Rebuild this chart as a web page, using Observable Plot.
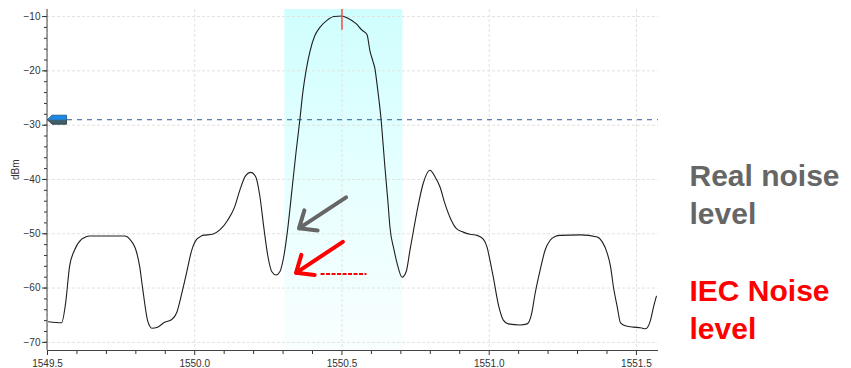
<!DOCTYPE html>
<html><head><meta charset="utf-8">
<script src="https://cdn.jsdelivr.net/npm/d3@7"></script>
<script src="https://cdn.jsdelivr.net/npm/@observablehq/plot@0.6"></script>
<style>body{margin:0;background:#fff} svg{display:block}</style>
</head><body><div id="chart"></div>
<script>
// Spectrum trace (wavelength in nm, power in dBm)
const wavelength = [1549.503,1549.548,1549.561,1549.575,1549.592,1549.616,1549.629,1549.643,1549.762,1549.772,1549.779,1549.803,1549.813,1549.823,1549.840,1549.847,1549.854,1549.874,1549.898,1549.922,1549.939,1549.956,1549.973,1549.990,1550.007,1550.017,1550.027,1550.061,1550.085,1550.112,1550.136,1550.153,1550.173,1550.190,1550.207,1550.221,1550.235,1550.248,1550.262,1550.276,1550.289,1550.303,1550.316,1550.330,1550.344,1550.357,1550.367,1550.378,1550.391,1550.408,1550.425,1550.449,1550.473,1550.500,1550.520,1550.548,1550.568,1550.585,1550.595,1550.605,1550.612,1550.619,1550.626,1550.633,1550.639,1550.646,1550.656,1550.663,1550.677,1550.687,1550.704,1550.718,1550.731,1550.741,1550.758,1550.776,1550.799,1550.816,1550.833,1550.850,1550.867,1550.888,1550.912,1550.935,1550.959,1550.980,1550.993,1551.003,1551.014,1551.031,1551.048,1551.065,1551.105,1551.129,1551.143,1551.156,1551.173,1551.190,1551.207,1551.224,1551.241,1551.310,1551.367,1551.384,1551.401,1551.412,1551.422,1551.435,1551.446,1551.466,1551.490,1551.514,1551.531,1551.548,1551.558,1551.568];
const power = [-66.2,-66.4,-63,-56,-53,-51,-50.6,-50.4,-50.4,-50.6,-51,-53.5,-56,-60,-66,-67,-67.4,-67.2,-66.3,-65.8,-64.5,-61,-57,-53,-51,-50.6,-50.3,-50.1,-49.3,-47.5,-45,-42,-39.3,-38.7,-39.5,-43,-49,-54,-57,-57.6,-57,-54,-49,-42,-35,-29,-24,-20,-16.5,-13.5,-12,-10.7,-10,-9.9,-10.3,-11.3,-12.5,-13.3,-16.3,-18.2,-19.6,-22.4,-25.5,-29,-33,-37.8,-44,-48.8,-53,-55.4,-58,-57,-53,-50,-45,-40.7,-38.3,-39.5,-41.4,-44.5,-47,-49,-49.7,-50.1,-50.3,-51,-52.5,-55,-58,-63,-65.9,-66.6,-66.8,-66.6,-65,-61,-56.7,-53,-51.2,-50.5,-50.3,-50.2,-50.6,-51.5,-53.6,-56,-59.8,-63.5,-66.4,-67,-67.2,-67.3,-67.5,-65.9,-63.5,-61.5];

const xTicks = [1549.5, 1550.0, 1550.5, 1551.0, 1551.5];
const xMinorTicks = [1549.6,1549.7,1549.8,1549.9,1550.1,1550.2,1550.3,1550.4,1550.6,1550.7,1550.8,1550.9,1551.1,1551.2,1551.3,1551.4];
const yTicks = [-70, -60, -50, -40, -30, -20, -10];
const yMinorTicks = [-70,-68,-66,-64,-62,-60,-58,-56,-54,-52,-50,-48,-46,-44,-42,-40,-38,-36,-34,-32,-30,-28,-26,-24,-22,-20,-18,-16,-14,-12,-10];
const xDomain = [1549.5, 1551.575];
const yDomain = [-71.5, -8.7];

const band = [{start: 1550.306, end: 1550.707}];
const threshold = [-29];
const peakMarker = [{x: 1550.5, top: -8.7, bottom: -12.5}];
const arrows = [
  {x1: 1550.514, y1: -43.3, x2: 1550.354, y2: -49.0, color: "#666666"},
  {x1: 1550.503, y1: -51.5, x2: 1550.344, y2: -57.2, color: "#ff0000"}
];
const iecLevel = [{from: 1550.429, to: 1550.585, level: -57.4}];
const realNoiseLabel = ["Real noise\nlevel"];
const iecNoiseLabel = ["IEC Noise\nlevel"];

const trace = wavelength.map((w, i) => ({w, p: power[i]}));

const markerFull = {draw(ctx){ctx.moveTo(-9.5,0);ctx.lineTo(-5,-4.5);ctx.lineTo(9.5,-4.5);ctx.lineTo(9.5,4.5);ctx.lineTo(-5,4.5);ctx.closePath();}};
const markerTop = {draw(ctx){ctx.moveTo(-9.5,0);ctx.lineTo(-5,-4.5);ctx.lineTo(9.5,-4.5);ctx.lineTo(9.5,0);ctx.closePath();}};

const defs = () => {
  const d = d3.create("svg:defs");
  const lg = d.append("linearGradient").attr("id", "bandGrad").attr("x1", 0).attr("y1", 0).attr("x2", 0).attr("y2", 1);
  lg.append("stop").attr("offset", "0%").attr("stop-color", "#d0fefe");
  lg.append("stop").attr("offset", "55%").attr("stop-color", "#e8ffff");
  lg.append("stop").attr("offset", "100%").attr("stop-color", "#f9fefe");
  return d.node();
};

const labelStyle = {frameAnchor: "top-right", textAnchor: "start", lineAnchor: "top", dx: 31, fontSize: 30, fontWeight: "bold", lineHeight: 1.27, letterSpacing: "0.8px"};

const chart = Plot.plot({
  width: 851,
  height: 368,
  marginLeft: 47,
  marginRight: 193,
  marginTop: 9,
  marginBottom: 18,
  style: {fontFamily: "'Liberation Sans', Arial, sans-serif", fontSize: "10px", color: "#333", background: "#fff"},
  x: {domain: xDomain},
  y: {domain: yDomain},
  marks: [
    defs,
    Plot.rect(band, {x1: "start", x2: "end", fill: "url(#bandGrad)"}),
    Plot.gridX(xTicks, {stroke: "#e2e2e2", strokeOpacity: 1, strokeDasharray: "3,2"}),
    Plot.gridY(yTicks, {stroke: "#e2e2e2", strokeOpacity: 1, strokeDasharray: "3,2"}),
    Plot.ruleY(threshold, {stroke: "#2b5d9a", strokeDasharray: "5,5", strokeWidth: 1}),
    Plot.line(trace, {x: "w", y: "p", stroke: "#1e1e1e", strokeWidth: 1.1, curve: "monotone-x"}),
    Plot.ruleX(peakMarker, {x: "x", y1: "top", y2: "bottom", stroke: "#ff4a4a", strokeWidth: 1.5}),
    Plot.arrow(arrows, {x1: "x1", y1: "y1", x2: "x2", y2: "y2", stroke: "color", strokeWidth: 4, headLength: 8, headAngle: 80}),
    Plot.ruleY(iecLevel, {x1: "from", x2: "to", y: "level", stroke: "#ff0000", strokeWidth: 2, strokeDasharray: "4,1.5"}),
    Plot.dot(threshold, {x: () => xDomain[0], y: d => d, symbol: markerFull, fill: "#3e5f6b", stroke: "#22323a", strokeWidth: 0.8, dx: 9.5, r: 5}),
    Plot.dot(threshold, {x: () => xDomain[0], y: d => d, symbol: markerTop, fill: "#1e88e5", dx: 9.5, r: 5}),
    Plot.axisX(xTicks, {tickSize: 5, tickFormat: d => d.toFixed(1), fill: "#333", stroke: "#333"}),
    Plot.axisX(xMinorTicks, {tickSize: 4, text: null, stroke: "#333"}),
    Plot.axisY(yTicks, {tickSize: 5, tickPadding: 2, fill: "#333", stroke: "#333", label: null}),
    Plot.axisY(yMinorTicks, {tickSize: 3, text: null, stroke: "#333", label: null}),
    Plot.ruleX([xDomain[0]], {stroke: "#444", dx: -0.5}),
    Plot.ruleY([yDomain[0]], {stroke: "#444"}),
    Plot.text(["dBm"], {frameAnchor: "left", dx: -32, rotate: -90, fill: "#333", fontSize: 10}),
    Plot.text(realNoiseLabel, {...labelStyle, fill: "#666666", dy: 149}),
    Plot.text(iecNoiseLabel, {...labelStyle, fill: "#ff0000", dy: 264})
  ]
});
document.getElementById("chart").append(chart);
</script>
</body></html>
